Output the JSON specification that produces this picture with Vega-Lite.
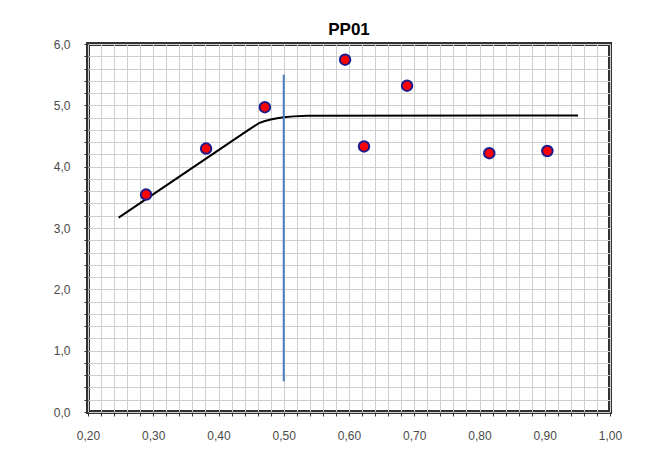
{
  "$schema": "https://vega.github.io/schema/vega-lite/v6.json",
  "autosize": "none",
  "padding": {"left": 88, "top": 44, "right": 40, "bottom": 51},
  "width": 522,
  "height": 368,
  "background": "white",
  "title": {"text": "PP01", "font": "Liberation Sans", "fontSize": 17, "fontWeight": "bold", "color": "#000000", "anchor": "middle", "offset": -1},
  "config": {
    "view": {"stroke": "#333333", "strokeWidth": 4},
    "axis": {
      "domain": false,
      "grid": true,
      "gridColor": "#cfcfcf",
      "gridWidth": 1,
      "tickSize": 4,
      "tickColor": "#333333",
      "tickWidth": 1,
      "labelFont": "Liberation Sans",
      "labelFontSize": 12,
      "labelColor": "#4a4a4a",
      "labelFlush": false,
      "labelOverlap": false,
      "labelPadding": 14,
      "title": null
    }
  },
  "datasets": {
    "points": [
      {"x": 0.289, "y": 3.545},
      {"x": 0.381, "y": 4.295},
      {"x": 0.471, "y": 4.97},
      {"x": 0.594, "y": 5.745},
      {"x": 0.623, "y": 4.33},
      {"x": 0.689, "y": 5.32},
      {"x": 0.815, "y": 4.22},
      {"x": 0.904, "y": 4.255}
    ],
    "model": [
      {"x": 0.247, "y": 3.17},
      {"x": 0.446, "y": 4.6},
      {"x": 0.462, "y": 4.71},
      {"x": 0.47, "y": 4.74},
      {"x": 0.48, "y": 4.77},
      {"x": 0.49, "y": 4.79},
      {"x": 0.5, "y": 4.805},
      {"x": 0.515, "y": 4.82},
      {"x": 0.536, "y": 4.83},
      {"x": 0.951, "y": 4.835}
    ],
    "vline": [{"x": 0.5, "y": 0.5, "y2": 5.5}]
  },
  "layer": [
    {
      "data": {"name": "model"},
      "mark": {"type": "line", "color": "#000000", "strokeWidth": 2},
      "encoding": {
        "x": {
          "field": "x", "type": "quantitative",
          "scale": {"domain": [0.2, 1.0], "nice": false, "zero": false},
          "axis": {
            "tickCount": 100,
            "values": [0.2,0.22,0.24,0.26,0.28,0.3,0.32,0.34,0.36,0.38,0.4,0.42,0.44,0.46,0.48,0.5,0.52,0.54,0.56,0.58,0.6,0.62,0.64,0.66,0.68,0.7,0.72,0.74,0.76,0.78,0.8,0.82,0.84,0.86,0.88,0.9,0.92,0.94,0.96,0.98,1.0],
            "labelExpr": "round(datum.value*100) % 10 == 0 ? replace(format(datum.value, '.2f'), '.', ',') : ''"
          }
        },
        "y": {
          "field": "y", "type": "quantitative",
          "scale": {"domain": [0, 6], "nice": false, "zero": false},
          "axis": {
            "tickCount": 100,
            "values": [0,0.2,0.4,0.6,0.8,1,1.2,1.4,1.6,1.8,2,2.2,2.4,2.6,2.8,3,3.2,3.4,3.6,3.8,4,4.2,4.4,4.6,4.8,5,5.2,5.4,5.6,5.8,6],
            "labelExpr": "round(datum.value*10) % 10 == 0 ? replace(format(datum.value, '.1f'), '.', ',') : ''"
          }
        }
      }
    },
    {
      "data": {"name": "vline"},
      "mark": {"type": "rule", "color": "#4a7ebb", "strokeWidth": 2},
      "encoding": {
        "x": {"field": "x", "type": "quantitative"},
        "y": {"field": "y", "type": "quantitative"},
        "y2": {"field": "y2"}
      }
    },
    {
      "data": {"name": "points"},
      "mark": {"type": "point", "shape": "circle", "filled": true, "fill": "#ff0000", "stroke": "#1c1c8c", "strokeWidth": 2, "size": 110, "opacity": 1},
      "encoding": {
        "x": {"field": "x", "type": "quantitative"},
        "y": {"field": "y", "type": "quantitative"}
      }
    }
  ]
}
